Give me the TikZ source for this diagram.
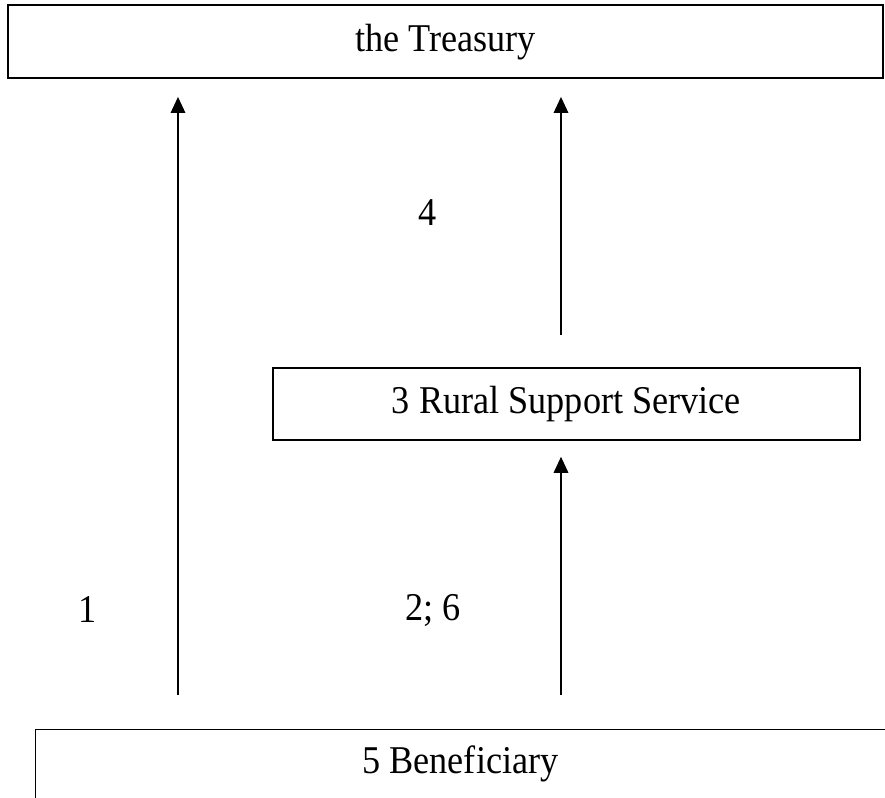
\documentclass[tikz,border=0pt]{standalone}
\usepackage{fontspec}
\setmainfont[FakeStretch=0.92]{Liberation Serif}
\usetikzlibrary{arrows.meta}

\begin{document}
\begin{tikzpicture}[font=\fontsize{28}{33}\selectfont,
  box/.style={draw,line width=1.1pt,inner sep=0pt},
  flow/.style={line width=1.3pt,-{Triangle[length=0.4cm,width=0.36cm]}},
  lbl/.style={inner sep=0pt}
]
  \useasboundingbox (0,0) rectangle (22.125,-19.95);
  \node[box,minimum width=21.875cm,minimum height=1.825cm] (treasury) at (11.14,-1.04) {the Treasury};
  \node[box,minimum width=14.675cm,minimum height=1.8cm] (rss) at (14.16,-10.1) {3 Rural Support Service};
  % bottom box runs off the page: only top and left edges show
  \node[inner sep=0pt,minimum width=21.225cm,minimum height=1.7cm] (benef) at (11.51,-19.1) {5 Beneficiary};
  \draw[line width=1.1pt] (benef.south west) -- (benef.north west) -- (benef.north east);

  \coordinate (s1) at (4.45,-17.375);
  \coordinate (s2) at (14.025,-17.375);
  \coordinate (s4) at (14.025,-8.375);
  \draw[flow,shorten >=0.45cm] (s1) -- (s1 |- treasury.south);
  \draw[flow,shorten >=0.45cm] (s4) -- (s4 |- treasury.south);
  \draw[flow,shorten >=0.4cm] (s2) -- (s2 |- rss.south);

  \node[lbl] (n1) at (2.2,-15.25) {1};
  \node[lbl] (n26) at (10.825,-15.25) {2; 6};
  \node[lbl] (n4) at (10.7,-5.325) {4};
\end{tikzpicture}
\end{document}
